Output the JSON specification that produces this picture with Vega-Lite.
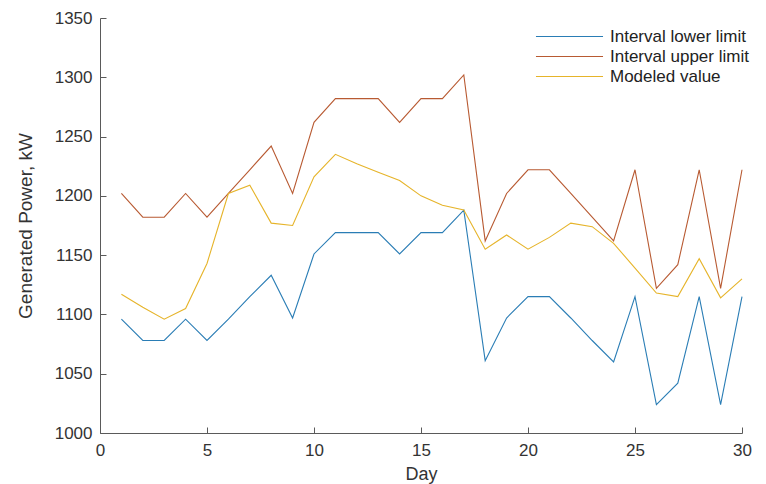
{
  "$schema": "https://vega.github.io/schema/vega-lite/v6.json",
  "width": 642,
  "height": 415,
  "autosize": {"type": "none"},
  "padding": {"left": 100, "top": 18, "right": 24, "bottom": 51},
  "background": "white",
  "config": {
    "view": {"stroke": null},
    "font": "Liberation Sans",
    "axis": {
      "domainColor": "#5a5a5a",
      "tickColor": "#5a5a5a",
      "labelColor": "#333333",
      "titleColor": "#333333",
      "labelFont": "Liberation Sans",
      "titleFont": "Liberation Sans",
      "labelFontSize": 17,
      "titleFontSize": 18,
      "titleFontWeight": "normal",
      "grid": false,
      "tickSize": -6,
      "domainWidth": 1,
      "tickWidth": 1
    }
  },
  "data": {
    "values": [
      {"day": 1, "series": "Interval lower limit", "value": 1096},
      {"day": 2, "series": "Interval lower limit", "value": 1078},
      {"day": 3, "series": "Interval lower limit", "value": 1078},
      {"day": 4, "series": "Interval lower limit", "value": 1096},
      {"day": 5, "series": "Interval lower limit", "value": 1078},
      {"day": 6, "series": "Interval lower limit", "value": 1096},
      {"day": 7, "series": "Interval lower limit", "value": 1115},
      {"day": 8, "series": "Interval lower limit", "value": 1133},
      {"day": 9, "series": "Interval lower limit", "value": 1097},
      {"day": 10, "series": "Interval lower limit", "value": 1151},
      {"day": 11, "series": "Interval lower limit", "value": 1169},
      {"day": 12, "series": "Interval lower limit", "value": 1169},
      {"day": 13, "series": "Interval lower limit", "value": 1169},
      {"day": 14, "series": "Interval lower limit", "value": 1151},
      {"day": 15, "series": "Interval lower limit", "value": 1169},
      {"day": 16, "series": "Interval lower limit", "value": 1169},
      {"day": 17, "series": "Interval lower limit", "value": 1188},
      {"day": 18, "series": "Interval lower limit", "value": 1061},
      {"day": 19, "series": "Interval lower limit", "value": 1097},
      {"day": 20, "series": "Interval lower limit", "value": 1115},
      {"day": 21, "series": "Interval lower limit", "value": 1115},
      {"day": 22, "series": "Interval lower limit", "value": 1097},
      {"day": 23, "series": "Interval lower limit", "value": 1078},
      {"day": 24, "series": "Interval lower limit", "value": 1060},
      {"day": 25, "series": "Interval lower limit", "value": 1115},
      {"day": 26, "series": "Interval lower limit", "value": 1024},
      {"day": 27, "series": "Interval lower limit", "value": 1042},
      {"day": 28, "series": "Interval lower limit", "value": 1115},
      {"day": 29, "series": "Interval lower limit", "value": 1024},
      {"day": 30, "series": "Interval lower limit", "value": 1115},
      {"day": 1, "series": "Interval upper limit", "value": 1202},
      {"day": 2, "series": "Interval upper limit", "value": 1182},
      {"day": 3, "series": "Interval upper limit", "value": 1182},
      {"day": 4, "series": "Interval upper limit", "value": 1202},
      {"day": 5, "series": "Interval upper limit", "value": 1182},
      {"day": 6, "series": "Interval upper limit", "value": 1202},
      {"day": 7, "series": "Interval upper limit", "value": 1222},
      {"day": 8, "series": "Interval upper limit", "value": 1242},
      {"day": 9, "series": "Interval upper limit", "value": 1202},
      {"day": 10, "series": "Interval upper limit", "value": 1262},
      {"day": 11, "series": "Interval upper limit", "value": 1282},
      {"day": 12, "series": "Interval upper limit", "value": 1282},
      {"day": 13, "series": "Interval upper limit", "value": 1282},
      {"day": 14, "series": "Interval upper limit", "value": 1262},
      {"day": 15, "series": "Interval upper limit", "value": 1282},
      {"day": 16, "series": "Interval upper limit", "value": 1282},
      {"day": 17, "series": "Interval upper limit", "value": 1302},
      {"day": 18, "series": "Interval upper limit", "value": 1162},
      {"day": 19, "series": "Interval upper limit", "value": 1202},
      {"day": 20, "series": "Interval upper limit", "value": 1222},
      {"day": 21, "series": "Interval upper limit", "value": 1222},
      {"day": 22, "series": "Interval upper limit", "value": 1202},
      {"day": 23, "series": "Interval upper limit", "value": 1182},
      {"day": 24, "series": "Interval upper limit", "value": 1162},
      {"day": 25, "series": "Interval upper limit", "value": 1222},
      {"day": 26, "series": "Interval upper limit", "value": 1122},
      {"day": 27, "series": "Interval upper limit", "value": 1142},
      {"day": 28, "series": "Interval upper limit", "value": 1222},
      {"day": 29, "series": "Interval upper limit", "value": 1122},
      {"day": 30, "series": "Interval upper limit", "value": 1222},
      {"day": 1, "series": "Modeled value", "value": 1117},
      {"day": 2, "series": "Modeled value", "value": 1106},
      {"day": 3, "series": "Modeled value", "value": 1096},
      {"day": 4, "series": "Modeled value", "value": 1105},
      {"day": 5, "series": "Modeled value", "value": 1143},
      {"day": 6, "series": "Modeled value", "value": 1202},
      {"day": 7, "series": "Modeled value", "value": 1209},
      {"day": 8, "series": "Modeled value", "value": 1177},
      {"day": 9, "series": "Modeled value", "value": 1175},
      {"day": 10, "series": "Modeled value", "value": 1216},
      {"day": 11, "series": "Modeled value", "value": 1235},
      {"day": 12, "series": "Modeled value", "value": 1227},
      {"day": 13, "series": "Modeled value", "value": 1220},
      {"day": 14, "series": "Modeled value", "value": 1213},
      {"day": 15, "series": "Modeled value", "value": 1200},
      {"day": 16, "series": "Modeled value", "value": 1192},
      {"day": 17, "series": "Modeled value", "value": 1188},
      {"day": 18, "series": "Modeled value", "value": 1155},
      {"day": 19, "series": "Modeled value", "value": 1167},
      {"day": 20, "series": "Modeled value", "value": 1155},
      {"day": 21, "series": "Modeled value", "value": 1165},
      {"day": 22, "series": "Modeled value", "value": 1177},
      {"day": 23, "series": "Modeled value", "value": 1174},
      {"day": 24, "series": "Modeled value", "value": 1160},
      {"day": 25, "series": "Modeled value", "value": 1139},
      {"day": 26, "series": "Modeled value", "value": 1118},
      {"day": 27, "series": "Modeled value", "value": 1115},
      {"day": 28, "series": "Modeled value", "value": 1147},
      {"day": 29, "series": "Modeled value", "value": 1114},
      {"day": 30, "series": "Modeled value", "value": 1130}
    ]
  },
  "mark": {"type": "line", "strokeWidth": 1.1},
  "encoding": {
    "x": {
      "field": "day",
      "type": "quantitative",
      "scale": {"domain": [0, 30], "nice": false, "zero": false},
      "axis": {"title": "Day", "format": "d", "values": [0, 5, 10, 15, 20, 25, 30], "labelPadding": 15, "titlePadding": 7, "titleFontSize": 18, "labelFlush": false}
    },
    "y": {
      "field": "value",
      "type": "quantitative",
      "scale": {"domain": [1000, 1350], "nice": false, "zero": false},
      "axis": {"title": "Generated Power, kW", "format": "d", "values": [1000, 1050, 1100, 1150, 1200, 1250, 1300, 1350], "labelPadding": 14, "titlePadding": 19, "titleFontSize": 19, "labelFlush": false}
    },
    "color": {
      "field": "series",
      "type": "nominal",
      "scale": {
        "domain": ["Interval lower limit", "Interval upper limit", "Modeled value"],
        "range": ["#2a7db5", "#b85a32", "#e6b42a"]
      },
      "legend": {
        "title": null,
        "orient": "none",
        "legendX": 461,
        "legendY": 10,
        "symbolType": "M-4.47,0H4.47",
        "symbolSize": 225,
        "symbolStrokeWidth": 1.1,
        "labelFontSize": 17,
        "labelFont": "Liberation Sans",
        "labelColor": "#222222",
        "labelOffset": 32,
        "rowPadding": 2
      }
    }
  }
}
